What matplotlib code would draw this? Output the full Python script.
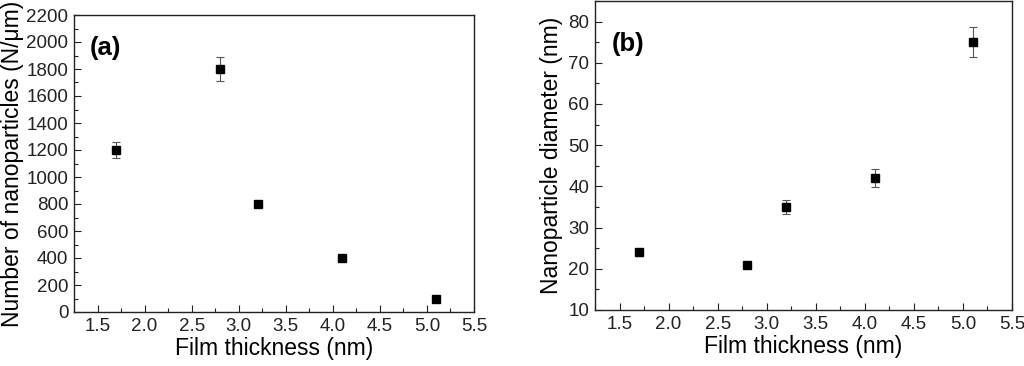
import matplotlib
matplotlib.use('Agg')
import matplotlib.pyplot as plt
from matplotlib.ticker import MultipleLocator

plt.rcParams['font.family'] = ['Liberation Sans', 'DejaVu Sans']

thickness = [1.7, 2.8, 3.2, 4.1, 5.1]
count = [1200, 1800, 800, 400, 100]
count_err = [60, 90, 25, 10, 5]
diameter = [24, 21, 35, 42, 75]
diameter_err = [0.8, 0.5, 1.8, 2.2, 3.7]

W, H = 1024, 366
fig = plt.figure(figsize=(W / 100, H / 100), dpi=100)
ax1 = fig.add_axes([74 / W, (H - 312) / H, 400 / W, 297 / H])
ax2 = fig.add_axes([595 / W, (H - 310) / H, 417 / W, 309 / H])


def style(ax):
    for s in ax.spines.values():
        s.set_linewidth(1.0)
        s.set_color('#222222')
    ax.tick_params(which='both', direction='in', top=False, right=False,
                   labelsize=13.5, colors='#222222', pad=4)
    ax.tick_params(which='major', length=5, width=0.8)
    ax.tick_params(which='minor', length=3, width=0.8)
    ax.xaxis.set_major_locator(MultipleLocator(0.5))
    ax.xaxis.set_minor_locator(MultipleLocator(0.25))
    ax.set_xlabel('Film thickness (nm)', fontsize=16.5, labelpad=2)


ax1.errorbar(thickness, count, yerr=count_err, fmt='s', color='black',
             ms=6, ecolor='#555555', elinewidth=0.8, capsize=3, capthick=0.8)
ax1.set_xlim(1.25, 5.5)
ax1.set_ylim(0, 2200)
ax1.yaxis.set_major_locator(MultipleLocator(200))
ax1.yaxis.set_minor_locator(MultipleLocator(100))
style(ax1)
ax1.set_ylabel('Number of nanoparticles (N/\u03bcm)', fontsize=16.5, labelpad=2)
ax1.text(0.04, 0.89, '(a)', transform=ax1.transAxes, fontsize=18.5,
         fontweight='bold', va='center')

ax2.errorbar(thickness, diameter, yerr=diameter_err, fmt='s', color='black',
             ms=6, ecolor='#555555', elinewidth=0.8, capsize=3, capthick=0.8)
ax2.set_xlim(1.25, 5.5)
ax2.set_ylim(10, 85)
ax2.yaxis.set_major_locator(MultipleLocator(10))
ax2.yaxis.set_minor_locator(MultipleLocator(5))
style(ax2)
ax2.set_ylabel('Nanoparticle diameter (nm)', fontsize=16.5, labelpad=4)
ax2.text(0.04, 0.86, '(b)', transform=ax2.transAxes, fontsize=18.5,
         fontweight='bold', va='center')

fig.savefig('out.png', dpi=100)
